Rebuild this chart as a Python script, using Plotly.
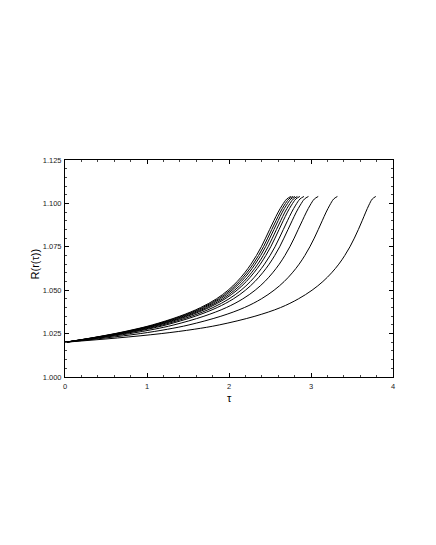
"""Plotly recreation of the R(r(tau)) growth curves."""

import plotly.graph_objects as go

# ---------------------------------------------------------------------------
# Data
# ---------------------------------------------------------------------------

# R values shared by every curve; each curve lists the tau where it reaches them
R_LEVELS = [1.020, 1.0225, 1.025, 1.0275, 1.030, 1.035, 1.040, 1.045, 1.050,
            1.055, 1.060, 1.065, 1.070, 1.075, 1.080, 1.085, 1.090, 1.095,
            1.099, 1.1025, 1.104]

TAU_C1 = [0, 0.321, 0.608, 0.853, 1.065, 1.398, 1.654, 1.846, 1.989, 2.100, 2.191,
          2.268, 2.335, 2.394, 2.446, 2.496, 2.547, 2.600, 2.650, 2.704, 2.754]
TAU_C2 = [0, 0.329, 0.622, 0.870, 1.085, 1.420, 1.677, 1.870, 2.014, 2.125, 2.216,
          2.294, 2.361, 2.420, 2.472, 2.522, 2.573, 2.626, 2.675, 2.729, 2.779]
TAU_C3 = [0, 0.336, 0.635, 0.888, 1.104, 1.442, 1.701, 1.894, 2.038, 2.150, 2.242,
          2.319, 2.387, 2.446, 2.498, 2.548, 2.599, 2.651, 2.701, 2.754, 2.804]
TAU_C4 = [0, 0.346, 0.652, 0.909, 1.128, 1.469, 1.729, 1.923, 2.068, 2.181, 2.273,
          2.351, 2.418, 2.477, 2.529, 2.579, 2.630, 2.682, 2.731, 2.784, 2.834]
TAU_C5 = [0, 0.355, 0.668, 0.930, 1.152, 1.495, 1.757, 1.952, 2.098, 2.211, 2.303,
          2.382, 2.449, 2.509, 2.561, 2.611, 2.661, 2.713, 2.762, 2.815, 2.864]
TAU_C6 = [0, 0.370, 0.695, 0.964, 1.191, 1.539, 1.804, 2.000, 2.147, 2.261, 2.354,
          2.433, 2.501, 2.561, 2.613, 2.663, 2.713, 2.765, 2.813, 2.865, 2.914]
TAU_C7 = [0, 0.387, 0.725, 1.003, 1.234, 1.588, 1.856, 2.053, 2.201, 2.316, 2.410,
          2.490, 2.558, 2.618, 2.670, 2.720, 2.770, 2.821, 2.869, 2.920, 2.969]
TAU_C8 = [0, 0.424, 0.790, 1.086, 1.328, 1.694, 1.968, 2.168, 2.319, 2.437, 2.532,
          2.613, 2.682, 2.742, 2.795, 2.844, 2.894, 2.944, 2.990, 3.040, 3.088]
TAU_C9 = [0, 0.496, 0.918, 1.249, 1.512, 1.901, 2.188, 2.394, 2.550, 2.673, 2.772,
          2.855, 2.925, 2.986, 3.040, 3.089, 3.137, 3.185, 3.229, 3.276, 3.322]
TAU_C10 = [0, 0.641, 1.173, 1.576, 1.881, 2.316, 2.629, 2.846, 3.013, 3.145, 3.251,
           3.339, 3.412, 3.475, 3.529, 3.578, 3.624, 3.668, 3.706, 3.747, 3.790]

CURVES = [TAU_C1, TAU_C2, TAU_C3, TAU_C4, TAU_C5,
          TAU_C6, TAU_C7, TAU_C8, TAU_C9, TAU_C10]

X_TICKS = [0, 1, 2, 3, 4]
Y_TICKS = [1.000, 1.025, 1.050, 1.075, 1.100, 1.125]

FONT = "Liberation Sans, Arial, sans-serif"


def axis_style(tickvals, minor_step, fmt):
    """Boxed axis with inside major and minor ticks."""
    return dict(
        tickvals=tickvals,
        ticktext=[fmt.format(v) for v in tickvals],
        ticks="inside",
        ticklen=4,
        tickwidth=1,
        tickcolor="#000",
        minor=dict(dtick=minor_step, ticks="inside", ticklen=2,
                   tickwidth=1, tickcolor="#444"),
        showline=True,
        linecolor="#000",
        linewidth=1,
        mirror="allticks",
        showgrid=False,
        zeroline=False,
        automargin=False,
        tickfont=dict(family=FONT, size=7.5, color="#222"),
    )


def chart_growth_curves() -> go.Figure:
    """Family of R(r(tau)) curves rising from 1.02 to about 1.104."""
    fig = go.Figure()
    for taus in CURVES:
        fig.add_trace(go.Scatter(
            x=taus,
            y=R_LEVELS,
            mode="lines",
            line=dict(color="#000", width=1, shape="spline", smoothing=1.0),
            hoverinfo="skip",
        ))

    xaxis = axis_style(X_TICKS, 0.2, "{:g}")
    xaxis.update(range=[0, 4], ticklabelstandoff=2)
    yaxis = axis_style(Y_TICKS, 0.005, "{:.3f}")
    yaxis.update(range=[1.0, 1.125], ticklabelstandoff=1)

    # the page body adds an 8px margin, so the figure is shrunk to fit
    fig.update_layout(
        width=420,
        height=529,
        margin=dict(l=57, r=35, t=152, b=160),
        paper_bgcolor="white",
        plot_bgcolor="white",
        showlegend=False,
        xaxis=xaxis,
        yaxis=yaxis,
        annotations=[
            dict(text="τ", x=0.5, y=-0.134, xref="paper", yref="paper",
                 showarrow=False, font=dict(family=FONT, size=11, color="#000")),
            dict(text="R(r(τ))", x=-0.115, y=0.52, xref="paper", yref="paper",
                 textangle=-90, showarrow=False,
                 font=dict(family=FONT, size=11, color="#000")),
        ],
    )
    return fig


fig = chart_growth_curves()
fig.write_html("out.html")
